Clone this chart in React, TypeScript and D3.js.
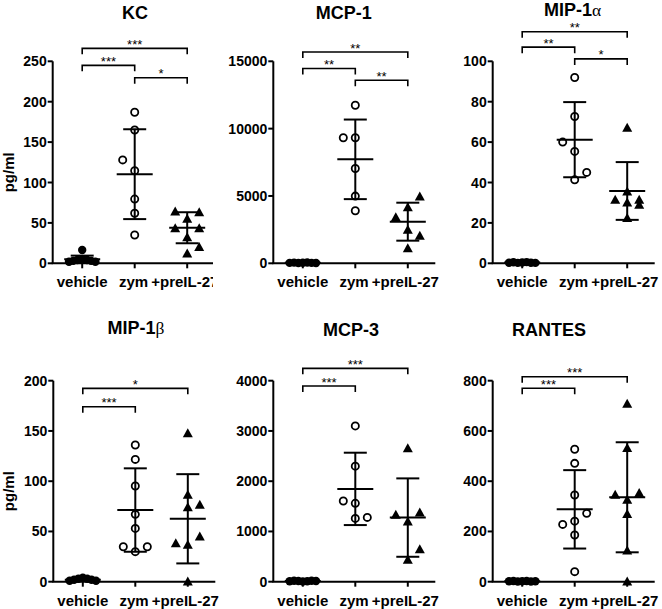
import React from "react";
import * as d3 from "d3";

const categories = ["vehicle", "zym", "+preIL-27"];
const titles = ["KC", "MCP-1", "MIP-1α", "MIP-1β", "MCP-3", "RANTES"];
const yMaxes = [250, 15000, 100, 200, 4000, 800];
const yTickSteps = [50, 5000, 20, 50, 1000, 200];

// KC
const kcValues = [[16.5, 2, 3, 4, 5, 4, 3, 2], [187, 165, 128, 114.5, 79.5, 62, 35], [64, 63, 55, 43, 43, 32, 20, 12]];
const kcColumns = [[0, -1.1, -0.75, -0.4, 0, 0.4, 0.75, 1.1], [0, 0, -1, 0, 0, 0, 0], [-1, 1, 0, -1, 1, 0, 1, 0]];
const kcMeans = [5, 110.3, 44];
const kcSDs = [4.5, 55.6, 19.2];
const kcSig: [number, number, number, string][] = [[0, 2, 266, "***"], [0, 1, 245, "***"], [1, 2, 229.7, "*"]];

// MCP-1
const mcp1Values = [[30, 50, 20, 40, 60, 30, 20], [11740, 9320, 9320, 7040, 4990, 3900], [4940, 4150, 3410, 2470, 2030, 1110]];
const mcp1Columns = [[-1.1, -0.73, -0.37, 0, 0.37, 0.73, 1.1], [0, -1, 0, 0, 0, 0], [1, 0, -1, 0, 1, 0]];
const mcp1Means = [35, 7720, 3090];
const mcp1SDs = [20, 2955, 1410];
const mcp1Sig: [number, number, number, string][] = [[0, 2, 15690, "**"], [0, 1, 14460, "**"], [1, 2, 13590, "**"]];

// MIP-1α
const mip1aValues = [[0.3, 0.5, 0.2, 0.4, 0.6, 0.3, 0.2], [92, 72.7, 60, 55.4, 45, 41.3], [67, 35.5, 31.4, 30, 31.4, 28.9, 22.3]];
const mip1aColumns = [[-1.1, -0.73, -0.37, 0, 0.37, 0.73, 1.1], [0, 0, -1, 0, 1, 0], [0, 0, -1, 0, 1, 1, 0]];
const mip1aMeans = [0.4, 61.2, 35.8];
const mip1aSDs = [0.2, 18.6, 14.3];
const mip1aSig: [number, number, number, string][] = [[0, 2, 114.6, "**"], [0, 1, 107, "**"], [1, 2, 101.2, "*"]];

// MIP-1β
const mip1bValues = [[1, 2, 3, 4, 3, 2, 1], [136, 121.7, 95.2, 67, 53, 34.8, 29.9, 34.8], [147.6, 86.2, 76.3, 74, 44.8, 38.1, 36.5, 0]];
const mip1bColumns = [[-1.1, -0.73, -0.37, 0, 0.37, 0.73, 1.1], [0, 0, 0, 0, 0, -1, 0, 1], [0, 0, 1, 0, 1, -1, 0, 0]];
const mip1bMeans = [2, 71.3, 62.6];
const mip1bSDs = [1, 41.5, 44.4];
const mip1bSig: [number, number, number, string][] = [[0, 2, 192.4, "*"], [0, 1, 174.1, "***"]];

// MCP-3
const mcp3Values = [[10, 20, 15, 5, 10, 20, 15], [3100, 2300, 1605, 1560, 1280, 1260], [2650, 1373, 1327, 1194, 643, 431]];
const mcp3Columns = [[-1.1, -0.73, -0.37, 0, 0.37, 0.73, 1.1], [0, 0, -1, 0, 1, 0], [0, 1, -1, 0, 1, 0]];
const mcp3Means = [15, 1847, 1276];
const mcp3SDs = [8, 720, 780];
const mcp3Sig: [number, number, number, string][] = [[0, 2, 4246, "***"], [0, 1, 3894, "***"]];

// RANTES
const rantesValues = [[2, 3, 1, 2, 3, 1, 2], [527, 471, 345, 272, 241, 228, 186, 40], [707, 531, 352, 345, 325, 269, 123, 0]];
const rantesColumns = [[-1.1, -0.73, -0.37, 0, 0.37, 0.73, 1.1], [0, 0, 0, 1, 0, -1, 0, 0], [0, 0, 1, -1, 0, 0, 0, 0]];
const rantesMeans = [2, 288, 336];
const rantesSDs = [1, 156, 219];
const rantesSig: [number, number, number, string][] = [[0, 2, 816, "***"], [0, 1, 770, "***"]];

const panelData = [
  { values: kcValues, columns: kcColumns, means: kcMeans, sds: kcSDs, sig: kcSig },
  { values: mcp1Values, columns: mcp1Columns, means: mcp1Means, sds: mcp1SDs, sig: mcp1Sig },
  { values: mip1aValues, columns: mip1aColumns, means: mip1aMeans, sds: mip1aSDs, sig: mip1aSig },
  { values: mip1bValues, columns: mip1bColumns, means: mip1bMeans, sds: mip1bSDs, sig: mip1bSig },
  { values: mcp3Values, columns: mcp3Columns, means: mcp3Means, sds: mcp3SDs, sig: mcp3Sig },
  { values: rantesValues, columns: rantesColumns, means: rantesMeans, sds: rantesSDs, sig: rantesSig },
];

// layout
const layouts = [
  { axisX: 52.7, yTop: 61.3, y0: 263.3, titleX: 135, titleY: 19, yLabel: true, clip: 213 },
  { axisX: 273.3, yTop: 61.3, y0: 263.3, titleX: 343.7, titleY: 19, yLabel: false, clip: 0 },
  { axisX: 492.7, yTop: 61.3, y0: 263.3, titleX: 572.5, titleY: 16, yLabel: false, clip: 0 },
  { axisX: 53.3, yTop: 380.7, y0: 581.7, titleX: 136, titleY: 334.3, yLabel: true, clip: 0 },
  { axisX: 273.3, yTop: 380.7, y0: 581.7, titleX: 351, titleY: 336, yLabel: false, clip: 0 },
  { axisX: 492.7, yTop: 380.7, y0: 581.7, titleX: 549, titleY: 336, yLabel: false, clip: 0 },
];

const FONT = "'Liberation Sans', Arial, Helvetica, sans-serif";
const AXIS_W = 162;
const COL_STEP = 12;

function Title({ text, x, y }: { text: string; x: number; y: number }) {
  const greek = text.match(/[αβ]$/);
  if (greek) {
    return (
      <text x={x} y={y} textAnchor="middle" fontFamily={FONT} fontWeight="bold" fontSize={18}>
        {text.slice(0, -1)}
        <tspan fontFamily="'Liberation Serif', 'Times New Roman', serif" fontWeight="normal" fontSize={17.5}>
          {greek[0]}
        </tspan>
      </text>
    );
  }
  return (
    <text x={x} y={y} textAnchor="middle" fontFamily={FONT} fontWeight="bold" fontSize={18}>
      {text}
    </text>
  );
}

function Marker({ kind, cx, cy }: { kind: number; cx: number; cy: number }) {
  if (kind === 0) return <circle cx={cx} cy={cy} r={4.2} fill="#000" />;
  if (kind === 1) return <circle cx={cx} cy={cy} r={3.6} fill="none" stroke="#000" strokeWidth={1.8} />;
  return <path d={`M${cx},${cy - 5.2}L${cx + 5},${cy + 3.8}L${cx - 5},${cy + 3.8}Z`} fill="#000" />;
}

function Panel({ idx }: { idx: number }) {
  const L = layouts[idx];
  const D = panelData[idx];
  const y = d3.scaleLinear().domain([0, yMaxes[idx]]).range([L.y0, L.yTop]);
  const x = d3.scalePoint<string>().domain(categories).range([L.axisX + 29.5, L.axisX + 134.5]);
  const ticks = d3.range(0, yMaxes[idx] + 1e-9, yTickSteps[idx]);
  const clipId = `clip${idx}`;
  return (
    <g clipPath={L.clip ? `url(#${clipId})` : undefined}>
      {L.clip ? (
        <defs>
          <clipPath id={clipId}>
            <rect x={0} y={0} width={L.clip} height={609} />
          </clipPath>
        </defs>
      ) : null}
      <Title text={titles[idx]} x={L.titleX} y={L.titleY} />
      {L.yLabel && (
        <text
          transform={`translate(13.5,${(L.y0 + L.yTop) / 2 + 10}) rotate(-90)`}
          textAnchor="middle"
          fontFamily={FONT}
          fontWeight="bold"
          fontSize={15}
        >
          pg/ml
        </text>
      )}
      {/* y axis */}
      <line x1={L.axisX} x2={L.axisX} y1={y(yMaxes[idx])} y2={L.y0} stroke="#000" strokeWidth={2} />
      {ticks.map((t) => (
        <g key={t}>
          <line x1={L.axisX - 5} x2={L.axisX} y1={y(t)} y2={y(t)} stroke="#000" strokeWidth={2} />
          <text
            x={L.axisX - 6}
            y={y(t)}
            dy="0.36em"
            textAnchor="end"
            fontFamily={FONT}
            fontWeight="bold"
            fontSize={14}
          >
            {t}
          </text>
        </g>
      ))}
      {/* x axis */}
      <line x1={L.axisX - 1} x2={L.axisX + AXIS_W} y1={L.y0} y2={L.y0} stroke="#000" strokeWidth={2} />
      {categories.map((c, ci) => (
        <g key={c}>
          <line x1={x(c)!} x2={x(c)!} y1={L.y0} y2={L.y0 + 5} stroke="#000" strokeWidth={2} />
          <text
            x={x(c)! - ci * 1.2}
            y={L.y0 + 24}
            textAnchor="middle"
            fontFamily={FONT}
            fontWeight="bold"
            fontSize={15}
          >
            {c}
          </text>
        </g>
      ))}
      {/* points */}
      {D.values.map((grp, g) =>
        grp.map((v, k) => (
          <Marker key={`${g}-${k}`} kind={g} cx={x(categories[g])! + D.columns[g][k] * COL_STEP} cy={y(v)} />
        ))
      )}
      {/* mean & SD */}
      {D.means.map((m, g) => {
        const cx = x(categories[g])!;
        const s = D.sds[g];
        return (
          <g key={`ms${g}`} stroke="#000" strokeWidth={2}>
            <line x1={cx} x2={cx} y1={y(m - s)} y2={y(m + s)} />
            <line x1={cx - 11.5} x2={cx + 11.5} y1={y(m + s)} y2={y(m + s)} />
            <line x1={cx - 11.5} x2={cx + 11.5} y1={y(m - s)} y2={y(m - s)} />
            <line x1={cx - 18} x2={cx + 18} y1={y(m)} y2={y(m)} />
          </g>
        );
      })}
      {/* significance brackets */}
      {D.sig.map(([a, b, yv, lab], k) => {
        const x1 = x(categories[a])!;
        const x2 = x(categories[b])!;
        const yy = y(yv);
        return (
          <g key={`s${k}`}>
            <path
              d={`M${x1},${yy + 6}V${yy}H${x2}V${yy + 6}`}
              fill="none"
              stroke="#000"
              strokeWidth={1.6}
            />
            <text x={(x1 + x2) / 2} y={yy + 0.5} textAnchor="middle" fontFamily={FONT} fontSize={13}>
              {lab}
            </text>
          </g>
        );
      })}
    </g>
  );
}

export default function App() {
  return (
    <svg
      width={662}
      height={609}
      viewBox="0 0 662 609"
      style={{ position: "absolute", left: 0, top: 0, background: "#fff" }}
    >
      <rect x={0} y={0} width={662} height={609} fill="#fff" />
      {layouts.map((_, i) => (
        <Panel key={i} idx={i} />
      ))}
    </svg>
  );
}
